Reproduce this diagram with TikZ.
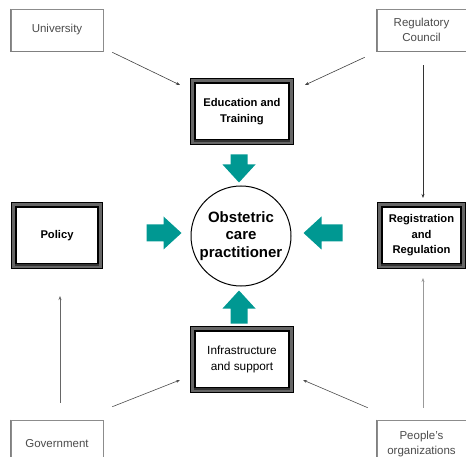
\documentclass[tikz,border=0pt]{standalone}
\usepackage{fontspec}
\setmainfont{Liberation Sans}
\usetikzlibrary{calc,arrows.meta}
\definecolor{tealc}{RGB}{0,152,146}
\begin{document}
\begin{tikzpicture}[x=1pt,y=-1pt,
  thinbox/.style={draw=black!45, line width=0.6pt, fill=white, inner sep=0pt,
    text=black!70, align=center, font=\fontsize{11.5}{15}\selectfont},
  shadowedge/.style={draw=black!50, line width=1.3pt},
  thickbox/.style={draw=black, line width=1.3pt, double=black!60, double distance=3pt,
    fill=white, inner sep=0pt, outer sep=2.8pt, align=center,
    font=\bfseries\fontsize{11.2}{15.5}\selectfont},
  bottomband/.style={draw=black!80, line width=2pt},
  centre/.style={circle, draw=black, line width=1pt, minimum size=100pt, inner sep=0pt,
    align=center, font=\bfseries\fontsize{15}{17.5}\selectfont},
  thinarr/.style={-{Stealth[length=4pt,width=3pt]}, line width=0.6pt},
  pics/fatarr/.style={code={\fill[tealc] (0,0) -- (-18,16.5) -- (-18,8.5) -- (-#1,8.5)
    -- (-#1,-8.5) -- (-18,-8.5) -- (-18,-16.5) -- cycle;}}
]
\useasboundingbox (0,0) rectangle (466,457);

% outer sources
\node[thinbox, minimum width=92pt, minimum height=42pt] (uni) at (57,30) {University};
\node[thinbox, minimum width=89pt, minimum height=42pt] (reg) at (421.5,30) {Regulatory\\Council};
\node[thinbox, minimum width=92pt, minimum height=48pt] (gov) at (57,444) {Government};
\node[thinbox, minimum width=89pt, minimum height=48pt] (peo) at (421.5,444) {People's\\organizations};
\foreach \n in {uni,reg,gov,peo}
  \draw[shadowedge] (\n.north west) -- (\n.south west) -- (\n.south east);

% thick boxes
\node[thickbox, minimum width=98.4pt, minimum height=61.4pt] (edu) at (242,111.5) {Education and\\Training};
\node[thickbox, minimum width=86.4pt, minimum height=61.4pt] (pol) at (57,235.5) {Policy};
\node[thickbox, minimum width=83.4pt, minimum height=61.4pt] (regis) at (421.5,235.5) {Registration\\and\\Regulation};
\node[thickbox, minimum width=98.4pt, minimum height=61.4pt,
  font=\fontsize{11.8}{15.5}\selectfont] (infra) at (242,359.5) {Infrastructure\\and support};
\foreach \n in {edu,pol,regis,infra}
  \draw[bottomband] ($(\n.south west)+(4,-4)$) -- ($(\n.south east)+(-4,-4)$);

% centre
\node[centre] (c) at (241,236) {Obstetric\\care\\practitioner};

% teal arrows
\pic[rotate=-90] at ($(c.north)+(-2,-3)$) {fatarr=28};
\pic at ($(c.west)+(-9,-3)$) {fatarr=35};
\pic[rotate=180] at ($(c.east)+(12,-3)$) {fatarr=39};
\pic[rotate=90] at ($(c.south)+(-2,4)$) {fatarr=33};

% thin connectors
\draw[thinarr, draw=black!75] ($(uni.south east)+(9,1)$) -- ($(edu.north west)+(-10,7)$);
\draw[thinarr, draw=black!75] ($(reg.south west)+(-12,6)$) -- ($(edu.north east)+(11,7)$);
\draw[thinarr, draw=black!80] ($(reg.south)+(1.5,14)$) -- ($(regis.north)+(1.5,-4)$);
\draw[thinarr, draw=black!60] ($(gov.north)+(3,-17)$) -- ($(pol.south)+(3,27)$);
\draw[thinarr, draw=black!40] ($(peo.north)+(1.5,-12)$) -- ($(regis.south)+(1.5,9)$);
\draw[thinarr, draw=black!70] ($(gov.north east)+(9,-13)$) -- ($(infra.south west)+(-10,-13)$);
\draw[thinarr, draw=black!70] ($(peo.north west)+(-9,-12)$) -- ($(infra.south east)+(9,-13)$);
\end{tikzpicture}
\end{document}
